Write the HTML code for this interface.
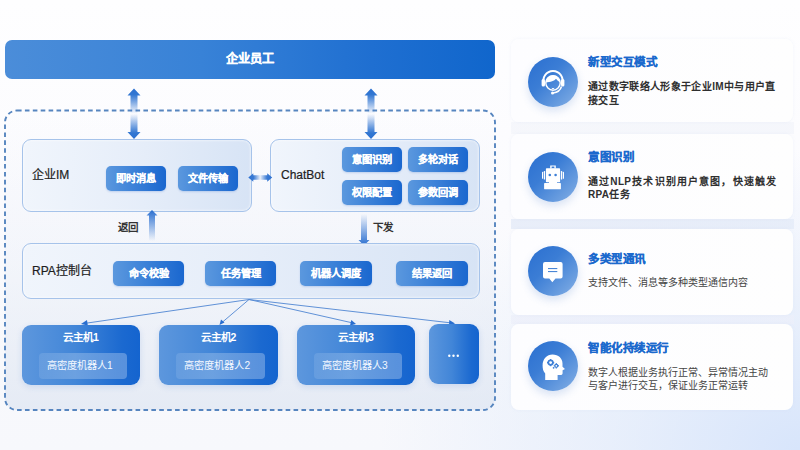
<!DOCTYPE html>
<html lang="zh-CN"><head><meta charset="utf-8">
<style>
*{margin:0;padding:0;box-sizing:border-box;}
html,body{width:800px;height:450px;overflow:hidden;}
body{font-family:"Liberation Sans",sans-serif;position:relative;
 background:radial-gradient(ellipse 420px 300px at 100% 100%,rgba(214,228,251,0.95) 0%,rgba(222,233,251,0.6) 45%,rgba(240,244,252,0) 100%),linear-gradient(180deg,#fefeff 0%,#fbfbfe 45%,#f8f9fc 80%,#f7f8fc 100%);}
.a{position:absolute;}
.bar{left:5px;top:40px;width:490px;height:38.5px;border-radius:7px;
 background:linear-gradient(90deg,#4b8dd9 0%,#3882d7 40%,#1f6fd1 75%,#1066cc 100%);
 color:#fff;font-weight:bold;font-size:12.3px;text-align:center;line-height:38px;-webkit-text-stroke:0.2px #fff;}
.box{border:1px solid #a6c3ea;border-radius:9px;box-shadow:inset 0 0 3px rgba(255,255,255,0.9);
 background:linear-gradient(90deg,rgba(240,245,252,0.95) 0%,rgba(229,237,249,0.95) 50%,rgba(214,227,245,0.97) 100%);}
.lbl{font-size:12px;color:#1e1e1e;-webkit-text-stroke:0.2px #1e1e1e;}
.btn{border-radius:5px;color:#fff;font-weight:bold;font-size:10.2px;-webkit-text-stroke:0.2px #fff;text-align:center;
 background:linear-gradient(90deg,#5b98de 0%,#3d82d8 45%,#1a67cf 100%);
 box-shadow:0 1px 2px rgba(30,90,190,0.2);}
.host{border-radius:9px;box-shadow:0 2px 6px rgba(40,100,200,0.15);background:linear-gradient(90deg,#5d97dd 0%,#4286d8 45%,#1b69d0 85%,#1464cf 100%);color:#fff;}
.host .t{position:absolute;left:0;right:0;top:4px;text-align:center;font-weight:bold;font-size:10.5px;line-height:16px;}
.host .in{position:absolute;left:17px;right:13.5px;top:27.5px;height:26px;border-radius:4px;background:linear-gradient(90deg,rgba(255,255,255,0.1) 0%,rgba(255,255,255,0.22) 40%,rgba(255,255,255,0.28) 100%);
 text-align:center;text-indent:-6px;font-size:10.2px;line-height:26px;color:#f4f8ff;}
.card{left:511px;width:282px;border-radius:8px;background:linear-gradient(90deg,#fdfdff 0%,#fefefe 100%);
 box-shadow:0 0 3px rgba(205,215,238,0.25);}
.circ{width:50px;height:50px;border-radius:25px;left:17px;
 background:linear-gradient(135deg,#2a6fd0 0%,#3b7dd5 40%,#6c9fe0 80%,#8db3e7 100%);
 box-shadow:0 4px 9px rgba(70,120,200,0.2);}
.circ svg{position:absolute;left:9px;top:9px;}
.ttl{left:77px;font-size:11.5px;font-weight:bold;color:#1b69cd;line-height:16px;letter-spacing:0.55px;-webkit-text-stroke:0.25px #1b69cd;}
.desc{left:77px;width:192px;font-size:10px;color:#2f2f2f;line-height:13.8px;letter-spacing:0.35px;}
.b{font-weight:bold;}
.dn{font-weight:normal;color:#444;letter-spacing:0;width:186px;}
</style></head><body>

<div class="a bar">企业员工</div>

<!-- dashed container -->
<svg class="a" style="left:0;top:0" width="500" height="450" viewBox="0 0 500 450">
 <defs><linearGradient id="cf" x1="0" y1="0" x2="0" y2="1"><stop offset="0" stop-color="#e6ecf6" stop-opacity="0"/><stop offset="0.5" stop-color="#e6ecf6" stop-opacity="0.35"/><stop offset="1" stop-color="#dfe6f2" stop-opacity="0.75"/></linearGradient></defs>
 <rect x="5" y="110.5" width="490" height="299.5" rx="12" ry="12" fill="url(#cf)" stroke="none"/>
 <rect x="5" y="110.5" width="490" height="299.5" rx="12" ry="12" fill="none" stroke="#5685bf" stroke-width="1.9" stroke-dasharray="4.6 3.3"/>
</svg>

<!-- vertical double arrows -->
<svg class="a" style="left:120px;top:85px" width="28" height="58" viewBox="0 0 28 58">
 <defs><linearGradient id="dv" x1="0" y1="0" x2="0" y2="1">
  <stop offset="0" stop-color="#2a6fd0"/><stop offset="0.12" stop-color="#3277d2"/><stop offset="0.5" stop-color="#2a6fd0" stop-opacity="0"/><stop offset="0.88" stop-color="#3277d2"/><stop offset="1" stop-color="#2a6fd0"/></linearGradient></defs>
 <path d="M14 3.5 L20.5 10.5 L17.5 10.5 L17.5 47 L20.5 47 L14 54 L7.5 47 L10.5 47 L10.5 10.5 L7.5 10.5 Z" fill="url(#dv)"/>
</svg>
<svg class="a" style="left:357px;top:85px" width="28" height="58" viewBox="0 0 28 58">
 <path d="M14 3.5 L20.5 10.5 L17.5 10.5 L17.5 47 L20.5 47 L14 54 L7.5 47 L10.5 47 L10.5 10.5 L7.5 10.5 Z" fill="url(#dv)"/>
</svg>

<!-- 企业IM -->
<div class="a box" style="left:22px;top:139px;width:230px;height:73px;"></div>
<div class="a lbl" style="left:32px;top:166px;line-height:18px;">企业IM</div>
<div class="a btn" style="left:106px;top:166px;width:60px;height:25px;line-height:26px;">即时消息</div>
<div class="a btn" style="left:178px;top:166px;width:60px;height:25px;line-height:26px;">文件传输</div>

<!-- ChatBot -->
<div class="a box" style="left:270px;top:139px;width:210px;height:73px;"></div>
<div class="a lbl" style="left:281px;top:166px;line-height:18px;">ChatBot</div>
<div class="a btn" style="left:342px;top:147px;width:60px;height:25px;line-height:26px;">意图识别</div>
<div class="a btn" style="left:408px;top:147px;width:60px;height:25px;line-height:26px;">多轮对话</div>
<div class="a btn" style="left:342px;top:180px;width:60px;height:25px;line-height:26px;">权限配置</div>
<div class="a btn" style="left:408px;top:180px;width:60px;height:25px;line-height:26px;">参数回调</div>

<!-- horizontal double arrow -->
<svg class="a" style="left:246px;top:169px" width="28" height="18" viewBox="0 0 28 18">
 <defs><linearGradient id="dh" x1="0" y1="0" x2="1" y2="0">
  <stop offset="0" stop-color="#2f72d1"/><stop offset="0.22" stop-color="#3a7ad3"/><stop offset="0.5" stop-color="#3a7ad3" stop-opacity="0.08"/><stop offset="0.78" stop-color="#3a7ad3"/><stop offset="1" stop-color="#2f72d1"/></linearGradient></defs>
 <path d="M2.3 8.5 L7.3 4.3 L7.3 6.3 L21.2 6.3 L21.2 4.3 L26.2 8.5 L21.2 12.7 L21.2 10.7 L7.3 10.7 L7.3 12.7 Z" fill="url(#dh)"/>
</svg>
<!-- 返回 / 下发 -->
<div class="a b" style="left:118px;top:219px;font-size:10.5px;line-height:16px;color:#333;">返回</div>
<svg class="a" style="left:144px;top:208px" width="16" height="36" viewBox="0 0 16 36">
 <defs><linearGradient id="du" x1="0" y1="0" x2="0" y2="1">
  <stop offset="0" stop-color="#2a6fd0"/><stop offset="1" stop-color="#2a6fd0" stop-opacity="0"/></linearGradient></defs>
 <path d="M8 2 L13.5 7.5 L11 7.5 L11 33 L5 33 L5 7.5 L2.5 7.5 Z" fill="url(#du)"/>
</svg>
<div class="a b" style="left:373px;top:219px;font-size:10.5px;line-height:16px;color:#333;">下发</div>
<svg class="a" style="left:356px;top:212px" width="16" height="36" viewBox="0 0 16 36">
 <defs><linearGradient id="dd" x1="0" y1="1" x2="0" y2="0">
  <stop offset="0" stop-color="#2a6fd0"/><stop offset="1" stop-color="#2a6fd0" stop-opacity="0"/></linearGradient></defs>
 <path d="M8 33.5 L13.5 28 L11 28 L11 2 L5 2 L5 28 L2.5 28 Z" fill="url(#dd)"/>
</svg>

<!-- RPA -->
<div class="a box" style="left:22px;top:243px;width:458px;height:56px;"></div>
<div class="a lbl" style="left:32px;top:262px;line-height:18px;">RPA控制台</div>
<div class="a btn" style="left:113px;top:261px;width:71px;height:25px;line-height:26px;">命令校验</div>
<div class="a btn" style="left:205px;top:261px;width:71px;height:25px;line-height:26px;">任务管理</div>
<div class="a btn" style="left:300px;top:261px;width:72px;height:25px;line-height:26px;">机器人调度</div>
<div class="a btn" style="left:396px;top:261px;width:72px;height:25px;line-height:26px;">结果返回</div>

<!-- fan lines -->
<svg class="a" style="left:0;top:0" width="500" height="450" viewBox="0 0 500 450">
 <g stroke="#4f86d2" stroke-width="0.9" fill="none">
  <line x1="249" y1="299.5" x2="84" y2="323.5"/>
  <line x1="249" y1="299.5" x2="222" y2="322.5"/>
  <line x1="249" y1="299.5" x2="353" y2="323"/>
  <line x1="249" y1="299.5" x2="452" y2="323"/>
 </g>
 <g fill="#2a6fd0">
  <path d="M81 324 L87 320 L87.8 325.5 Z"/>
  <path d="M219.5 325 L221 319.5 L224.5 322.5 Z"/>
  <path d="M356 324 L350 325.5 L351.3 320 Z"/>
  <path d="M455 323.5 L449 325.5 L449.3 320 Z"/>
 </g>
</svg>

<!-- hosts -->
<div class="a host" style="left:22px;top:325px;width:118px;height:60px;"><div class="t">云主机1</div><div class="in">高密度机器人1</div></div>
<div class="a host" style="left:159px;top:325px;width:119px;height:60px;"><div class="t">云主机2</div><div class="in">高密度机器人2</div></div>
<div class="a host" style="left:297px;top:325px;width:118px;height:60px;"><div class="t">云主机3</div><div class="in">高密度机器人3</div></div>
<div class="a host" style="left:429px;top:324px;width:50px;height:60px;">
 <svg class="a" style="left:0;top:0" width="50" height="60"><g fill="#fff"><circle cx="20.3" cy="31.75" r="1.2"/><circle cx="24.5" cy="31.75" r="1.2"/><circle cx="28.8" cy="31.75" r="1.2"/></g></svg>
</div>

<div class="a" style="left:511px;top:122px;width:283px;height:12px;background:linear-gradient(90deg,rgba(236,239,247,0.4),rgba(238,241,249,0.5));"></div>
<div class="a" style="left:511px;top:219px;width:283px;height:10px;background:linear-gradient(90deg,rgba(225,232,247,0.7),rgba(228,235,248,0.8));"></div>
<div class="a" style="left:511px;top:315px;width:283px;height:9px;background:linear-gradient(90deg,rgba(234,236,249,0.5),rgba(237,239,250,0.6));"></div>
<!-- right cards -->
<div class="a card" style="top:39px;height:83px;">
 <div class="a circ" style="top:17.5px;">
  <svg width="32" height="32" viewBox="0 0 32 32" style="left:9px;top:9px">
   <path d="M7.1 17.7 A9.5 9.5 0 1 1 24.9 17.7" fill="none" stroke="#fff" stroke-width="2"/>
   <rect x="4.6" y="13" width="3.4" height="7.5" rx="1.5" fill="#fff"/>
   <rect x="24" y="13" width="3.4" height="7.5" rx="1.5" fill="#fff"/>
   <circle cx="16" cy="17" r="7.2" fill="none" stroke="#fff" stroke-width="1.4"/>
   <path d="M8.8 16.5 C8.8 11.5 12 9.5 16 9.5 C20 9.5 23.2 11.5 23.2 16.5 L20.5 14.5 L19 12.8 C17.5 15 13.5 16 8.8 16.5 Z" fill="#fff"/>
   <path d="M24.5 20.5 Q23 26 16 27" fill="none" stroke="#fff" stroke-width="1.5"/>
   <circle cx="15.5" cy="27" r="1.5" fill="#fff"/>
   <path d="M14.8 22.3 Q16 23.3 17.2 22.3" fill="none" stroke="#fff" stroke-width="1"/>
  </svg>
 </div>
 <div class="a ttl" style="top:15px;">新型交互模式</div>
 <div class="a desc b" style="top:41px;">通过数字联络人形象于企业IM中与用户直接交互</div>
</div>
<div class="a card" style="top:134px;height:85px;">
 <div class="a circ" style="top:18px;">
  <svg width="32" height="32" viewBox="0 0 32 32" style="left:9px;top:9px">
   <g fill="#fff">
    <path d="M13.2 4.6 H18.8 V7.6 H13.2 Z M14.6 5.6 V7.2 H17.4 V5.6 Z" fill-rule="evenodd"/>
    <rect x="8.9" y="7.2" width="14.2" height="14" rx="0.8"/>
    <rect x="12" y="20.5" width="8" height="2"/>
    <rect x="7.1" y="22" width="16.8" height="6.2" rx="0.4"/>
    <rect x="5" y="10.8" width="1.1" height="7" rx="0.5"/>
    <rect x="6.8" y="10" width="1.3" height="8.5" rx="0.5"/>
    <rect x="23.9" y="10" width="1.3" height="8.5" rx="0.5"/>
    <rect x="25.9" y="10.8" width="1.1" height="7" rx="0.5"/>
   </g>
   <g fill="#3d7fd6"><circle cx="12.8" cy="14" r="1.3"/><circle cx="18.6" cy="14" r="1.3"/></g>
  </svg>
 </div>
 <div class="a ttl" style="top:14.5px;">意图识别</div>
 <div class="a desc b" style="top:40.5px;text-align:justify;width:188.5px;">通过NLP技术识别用户意图，快速触发RPA任务</div>
</div>
<div class="a card" style="top:229px;height:86px;">
 <div class="a circ" style="top:17px;">
  <svg width="32" height="32" viewBox="0 0 32 32" style="left:9px;top:9px">
   <path d="M8 7.1 H23.6 A2 2 0 0 1 25.6 9.1 V21.5 A2 2 0 0 1 23.6 23.5 H18.5 L15.3 27.2 L12.3 23.5 H8 A2 2 0 0 1 6 21.5 V9.1 A2 2 0 0 1 8 7.1 Z" fill="#fff"/>
   <rect x="11" y="13" width="9.3" height="1.1" fill="#4a86d6"/>
   <rect x="11" y="16" width="9.3" height="1.1" fill="#4a86d6"/>
  </svg>
 </div>
 <div class="a ttl" style="top:22px;">多类型通讯</div>
 <div class="a desc dn" style="top:46.5px;">支持文件、消息等多种类型通信内容</div>
</div>
<div class="a card" style="top:324px;height:86px;">
 <div class="a circ" style="top:17px;">
  <svg width="32" height="32" viewBox="0 0 32 32" style="left:9px;top:9px">
   <path d="M8.2 30 L8.2 23.5 C6.2 21.5 5.6 18.5 5.6 15.5 C5.6 9 10 4.6 15.5 4.6 C21.5 4.6 25.5 8.5 25.5 13.5 L25.5 16.8 L28 19 L25.6 20.2 L25.6 23 C25.6 24.4 24.8 25 23.4 25 L20.6 25 L20.6 30 Z" fill="#fff"/>
   <g fill="none" stroke="#3f80d6">
    <circle cx="13.6" cy="12.6" r="2.3" stroke-width="1.7"/>
    <circle cx="19.3" cy="15.8" r="1.5" stroke-width="1.3"/>
   </g>
   <g fill="#3f80d6">
    <rect x="12.9" y="9" width="1.4" height="1.3"/><rect x="12.9" y="14.9" width="1.4" height="1.3"/>
    <rect x="10" y="11.9" width="1.3" height="1.4"/><rect x="15.9" y="11.9" width="1.3" height="1.4"/>
    <rect x="18.7" y="13.1" width="1.2" height="1"/><rect x="18.7" y="17.5" width="1.2" height="1"/>
    <rect x="16.7" y="15.2" width="1" height="1.2"/><rect x="21" y="15.2" width="1" height="1.2"/>
    <circle cx="16.6" cy="17.8" r="0.9"/>
   </g>
  </svg>
 </div>
 <div class="a ttl" style="top:16px;">智能化持续运行</div>
 <div class="a desc dn" style="top:41.5px;line-height:13.3px;">数字人根据业务执行正常、异常情况主动与客户进行交互，保证业务正常运转</div>
</div>

</body></html>
